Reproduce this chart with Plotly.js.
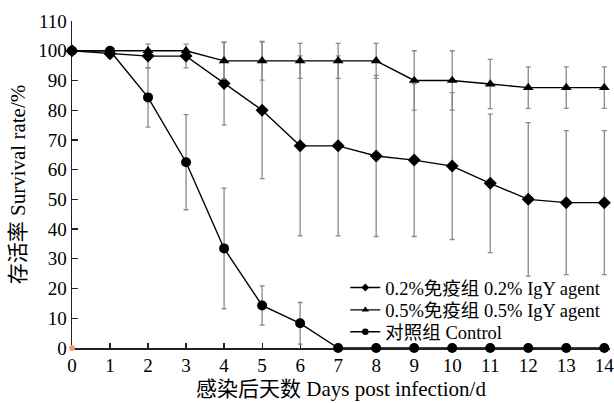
<!DOCTYPE html>
<html>
<head>
<meta charset="utf-8">
<script src="https://cdn.plot.ly/plotly-3.0.1.min.js"></script>
<style>html,body{margin:0;padding:0;background:#fff;}#chart{width:614px;height:403px;}</style>
</head>
<body>
<div id="chart"></div>
<script>
// Days post infection
var days = [0, 1, 2, 3, 4, 5, 6, 7, 8, 9, 10, 11, 12, 13, 14];
// 0.2% IgY agent (diamond)
var igy02 = [100, 99, 98.2, 98.2, 89, 80, 68, 68, 64.6, 63.2, 61.2, 55.4, 50, 48.9, 48.9];
var igy02Err = [0, 1.5, 4, 4, 14, 23, 30.3, 30.3, 27.1, 25.7, 24.7, 23.3, 25.8, 24.2, 24.2];
// 0.5% IgY agent (triangle)
var igy05 = [100, 100, 100, 100, 96.6, 96.6, 96.6, 96.6, 96.6, 90, 90, 88.8, 87.6, 87.6, 87.6];
var igy05Err = [0, 0, 0, 0, 6.1, 6.5, 5.9, 5.9, 5.9, 10, 10, 8.3, 7, 7, 7];
// Control (circle)
var ctrl = [100, 100, 84.3, 62.5, 33.5, 14.3, 8.3, 0, 0, 0, 0, 0, 0, 0, 0];
var ctrlErr = [0, 0, 10, 16, 20.3, 6.6, 7, 0, 0, 0, 0, 0, 0, 0, 0];
// small orange point at origin
var originX = [0];
var originY = [0];

var names = ['0.2%免疫组 0.2% IgY agent', '0.5%免疫组 0.5% IgY agent', '对照组 Control'];
var xTicks = [0, 1, 2, 3, 4, 5, 6, 7, 8, 9, 10, 11, 12, 13, 14];
var yTicks = [0, 10, 20, 30, 40, 50, 60, 70, 80, 90, 100, 110];

var serif = '"Times New Roman", "Liberation Serif", "Noto Sans CJK SC", serif';
var errStyle = function(arr){ return {type:'data', array:arr, visible:true, color:'#8a8a8a', thickness:1.3, width:2.5}; };
var lineStyle = {color:'#000', width:1.4};

var traces = [
  {x: days, y: igy02, mode:'lines+markers', name:names[0], showlegend:false, cliponaxis:false,
   line:lineStyle, marker:{symbol:'diamond', size:10, color:'#000'}, error_y: errStyle(igy02Err)},
  {x: days, y: igy05, mode:'lines+markers', name:names[1], showlegend:false, cliponaxis:false,
   line:lineStyle, marker:{symbol:'triangle-up', size:9.5, color:'#000'}, error_y: errStyle(igy05Err)},
  {x: days, y: ctrl, mode:'lines+markers', name:names[2], showlegend:false, cliponaxis:false,
   line:lineStyle, marker:{symbol:'circle', size:10, color:'#000'}, error_y: errStyle(ctrlErr)},
  {x: originX, y: originY, mode:'markers', showlegend:false, cliponaxis:false, hoverinfo:'skip',
   marker:{symbol:'circle', size:6, color:'#f0a070'}},
  // legend entries
  {x:[null], y:[null], mode:'lines+markers', name:names[0], legend:'legend',
   line:lineStyle, marker:{symbol:'diamond', size:6, color:'#000'}},
  {x:[null], y:[null], mode:'lines+markers', name:names[1], legend:'legend2',
   line:lineStyle, marker:{symbol:'triangle-up', size:6.5, color:'#000'}},
  {x:[null], y:[null], mode:'lines+markers', name:names[2], legend:'legend3',
   line:lineStyle, marker:{symbol:'circle', size:6.5, color:'#000'}}
];

var legBase = function(y){
  return {x:0.508, xanchor:'left', y:y, yanchor:'middle', bgcolor:'rgba(0,0,0,0)',
          font:{family:serif, size:18.5, color:'#000'}, borderwidth:0};
};

var layout = {
  width:614, height:403,
  margin:{l:72, r:4.3, t:20.5, b:54.5},
  paper_bgcolor:'#fff', plot_bgcolor:'#fff',
  font:{family:serif, color:'#000'},
  xaxis:{range:[0, 14.15], tickvals:xTicks, ticktext:xTicks.map(String), ticks:'inside', ticklen:5,
         tickwidth:1.2, tickcolor:'#222', showline:true, linecolor:'#222', linewidth:1.5,
         ticklabeloverflow:'allow', layer:'below traces',
         showgrid:false, zeroline:false, tickfont:{family:serif, size:19, color:'#000'},
         title:{text:'感染后天数 Days post infection/d', font:{family:serif, size:21, color:'#000'}, standoff:6}},
  yaxis:{range:[0, 110], tickvals:yTicks, ticktext:yTicks.map(String), ticks:'inside', ticklen:6,
         tickwidth:1.2, tickcolor:'#222', showline:true, linecolor:'#222', linewidth:1.5,
         layer:'below traces',
         showgrid:false, zeroline:false, tickfont:{family:serif, size:19, color:'#000'},
         title:{text:'存活率 Survival rate/%', font:{family:serif, size:21, color:'#000'}, standoff:7}},
  legend: legBase(0.1835),
  legend2: legBase(0.1152),
  legend3: legBase(0.0482),
  showlegend:true
};

Plotly.newPlot('chart', traces, layout, {displayModeBar:false, staticPlot:true});
</script>
</body>
</html>
